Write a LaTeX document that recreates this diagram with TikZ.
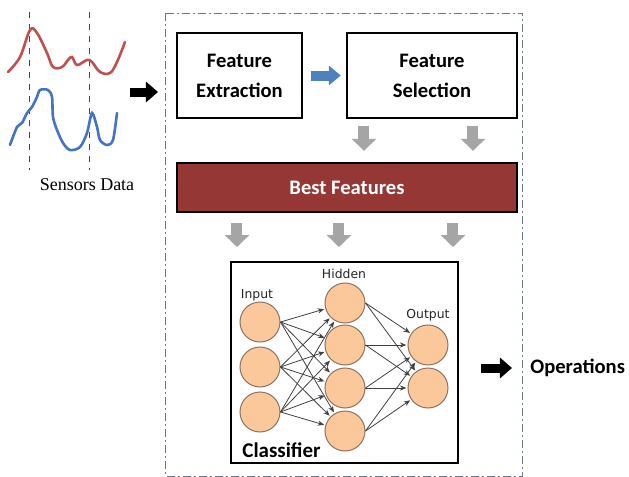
\documentclass[tikz,border=0pt]{standalone}
\usepackage{fontspec}
\setmainfont{Carlito}
\newfontfamily\sensorfont{Liberation Serif}
\newfontfamily\layerfont{DejaVu Sans}
\usetikzlibrary{arrows.meta}

\definecolor{bestred}{RGB}{149,55,53}
\definecolor{neuronfill}{RGB}{250,200,155}
\definecolor{neuronedge}{RGB}{140,115,95}
\definecolor{arrowgray}{RGB}{165,165,165}
\definecolor{arrowblue}{RGB}{79,129,189}
\definecolor{curvered}{RGB}{192,80,77}
\definecolor{curveblue}{RGB}{68,114,196}
\definecolor{framegray}{RGB}{110,120,140}

\begin{document}
\begin{tikzpicture}[x=0.5pt,y=-0.5pt]

% Styles
\tikzset{
    box/.style={draw=black, line width=1.2pt, fill=white, align=center,
        inner sep=0pt, font=\bfseries\fontsize{10.3}{15}\selectfont},
    neuron/.style={circle, draw=neuronedge, line width=0.5pt,
        fill=neuronfill, minimum size=20pt, inner sep=0pt},
    link/.style={draw=black!75, line width=0.4pt,
        -{Stealth[length=3.2pt,width=2.6pt]}, shorten >=0.6pt},
    layerlabel/.style={font=\layerfont\fontsize{6.2}{7}\selectfont, text=black!85},
    grayarrow/.style={draw=arrowgray, line width=5.5pt,
        -{Triangle[width=12pt,length=6pt]}},
    blackarrow/.style={draw=black, line width=4.5pt,
        -{Triangle[width=10pt,length=6pt]}},
    bluearrow/.style={draw=arrowblue, line width=5pt,
        -{Triangle[width=9.5pt,length=6pt]}},
}

\useasboundingbox (0,0) rectangle (629,477);

% Sensors data
\draw[black!70, line width=0.5pt, dashed] (30,12) -- (30,170);
\draw[black!70, line width=0.5pt, dashed] (90,12) -- (90,170);
\draw[curvered, line width=1.3pt, line cap=round] plot[smooth, tension=0.6] coordinates
    {(8,72) (20,57) (30,30) (37,33) (47,53) (53,67) (62,67) (68,60) (72,57)
     (77,65) (87,60) (92,62) (100,72) (110,73) (117,62) (125,42)};
\draw[curveblue, line width=1.3pt, line cap=round] plot[smooth, tension=0.5] coordinates
    {(10,145) (17,127) (22,123) (27,113) (32,107) (37,97) (40,90) (48,90)
     (52,97) (53,117) (57,130) (63,143) (70,150) (80,147) (87,133) (92,113)
     (97,127) (100,140) (107,145) (113,140) (117,113)};
\node[font=\sensorfont\fontsize{9}{10}\selectfont] (sdata) at (87,185) {Sensors Data};

% Outer frame
\draw[framegray, line width=0.5pt, dash pattern=on 4pt off 1.5pt on 1pt off 1.5pt]
    (166,13) rectangle (523,476);

% Feature boxes
\node[box, minimum width=62.5pt, minimum height=42.5pt] (fe) at (239.5,75.5) {Feature\\Extraction};
\node[box, minimum width=85pt, minimum height=42.5pt] (fs) at (432,75.5) {Feature\\Selection};
\node[box, fill=bestred, text=white, minimum width=170pt, minimum height=24.5pt]
    (bf) at (347,187.5) {Best Features};
\node[draw=black, line width=1pt, minimum width=113.5pt, minimum height=100.5pt]
    (cls) at (344.5,362.5) {};
\node[anchor=west, inner sep=0pt, font=\bfseries\fontsize{10.5}{12}\selectfont]
    (clslabel) at (242,450) {Classifier};
\node[anchor=west, inner sep=0pt, font=\bfseries\fontsize{10.3}{12}\selectfont]
    (ops) at (530,368) {Operations};

% Block arrows
\coordinate (datain) at (130,92);
\draw[blackarrow] (datain) -- ++(28,0);
\draw[bluearrow, shorten <=4pt, shorten >=2.5pt] (fe.east) -- (fs.west);
\draw[grayarrow, shorten <=3.5pt, shorten >=5.5pt] ([xshift=-34pt]fs.south) -- ([xshift=-34pt]fs.south |- bf.north);
\draw[grayarrow, shorten <=3.5pt, shorten >=5.5pt] ([xshift=20.5pt]fs.south) -- ([xshift=20.5pt]fs.south |- bf.north);
\draw[grayarrow, shorten <=5pt, shorten >=7pt] ([xshift=-55pt]bf.south) -- ([xshift=-55pt]bf.south |- cls.north);
\draw[grayarrow, shorten <=5pt, shorten >=7pt] ([xshift=-4pt]bf.south) -- ([xshift=-4pt]bf.south |- cls.north);
\draw[grayarrow, shorten <=5pt, shorten >=7pt] ([xshift=53pt]bf.south) -- ([xshift=53pt]bf.south |- cls.north);
\draw[blackarrow, shorten <=11pt, shorten >=9pt] (cls.east |- ops.west) -- (ops.west);

% Neural network
\node[neuron] (in1) at (260,322) {};
\node[neuron] (in2) at (260,367) {};
\node[neuron] (in3) at (260,412) {};
\node[neuron] (hid1) at (345,303) {};
\node[neuron] (hid2) at (345,345) {};
\node[neuron] (hid3) at (345,388) {};
\node[neuron] (hid4) at (345,431) {};
\node[neuron] (out1) at (428,345) {};
\node[neuron] (out2) at (428,388) {};

\node[layerlabel] (inlabel) at (257,295) {Input};
\node[layerlabel] (hidlabel) at (344,274) {Hidden};
\node[layerlabel] (outlabel) at (428,315) {Output};

\draw[link] (in1.east) -- (hid1); \draw[link] (in1.east) -- (hid2);
\draw[link] (in1.east) -- (hid3); \draw[link] (in1.east) -- (hid4);
\draw[link] (in2.east) -- (hid1); \draw[link] (in2.east) -- (hid2);
\draw[link] (in2.east) -- (hid3); \draw[link] (in2.east) -- (hid4);
\draw[link] (in3.east) -- (hid1); \draw[link] (in3.east) -- (hid2);
\draw[link] (in3.east) -- (hid3); \draw[link] (in3.east) -- (hid4);
\draw[link] (hid1.east) -- (out1); \draw[link] (hid1.east) -- (out2);
\draw[link] (hid2.east) -- (out1); \draw[link] (hid2.east) -- (out2);
\draw[link] (hid3.east) -- (out1); \draw[link] (hid3.east) -- (out2);
\draw[link] (hid4.east) -- (out1); \draw[link] (hid4.east) -- (out2);

\end{tikzpicture}
\end{document}
